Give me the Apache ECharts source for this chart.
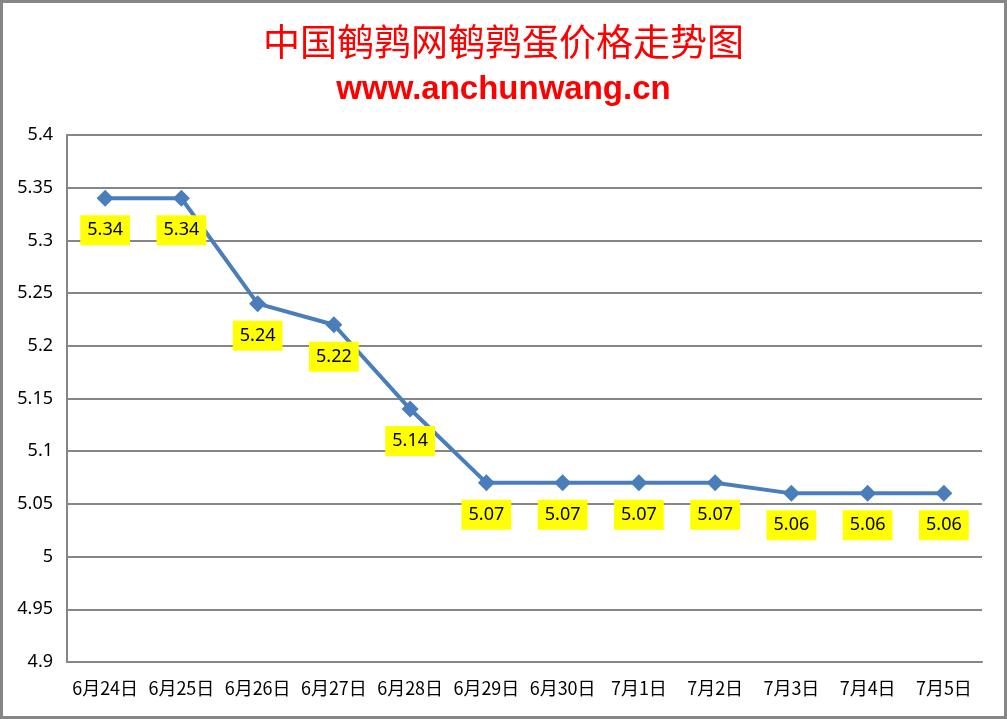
<!DOCTYPE html>
<html>
<head>
<meta charset="utf-8">
<script src="https://cdn.jsdelivr.net/npm/echarts@6/dist/echarts.min.js"></script>
<style>
  html, body { margin: 0; padding: 0; background: #fff; }
  #chart { width: 1007px; height: 719px; box-sizing: border-box; border: 3px solid #868686; }
</style>
</head>
<body>
<div id="chart"></div>
<script>
// 日期和价格
const dates = ['6月24日', '6月25日', '6月26日', '6月27日', '6月28日', '6月29日',
  '6月30日', '7月1日', '7月2日', '7月3日', '7月4日', '7月5日'];
const prices = [5.34, 5.34, 5.24, 5.22, 5.14, 5.07, 5.07, 5.07, 5.07, 5.06, 5.06, 5.06];

const chart = echarts.init(document.getElementById('chart'));

chart.setOption({
  animation: false,
  title: [{
    text: '中国鹌鹑网鹌鹑蛋价格走势图',
    left: 'center',
    top: 15,
    textStyle: { color: '#ff0000', fontSize: 37, fontWeight: 'normal', fontFamily: 'Noto Sans CJK SC' }
  }, {
    text: 'www.anchunwang.cn',
    left: 'center',
    top: 65,
    textStyle: { color: '#ff0000', fontSize: 33, fontWeight: 'bold', fontFamily: 'Liberation Sans' }
  }],
  // 关掉 v6 的自动外边界调整，网格位置按数值固定
  grid: { left: 64, right: 22, top: 132, bottom: 54, outerBoundsMode: 'none' },
  xAxis: {
    type: 'category',
    data: dates,
    axisLine: { lineStyle: { color: '#868686', width: 2 } },
    axisTick: { show: false },
    axisLabel: { color: '#000', fontSize: 18, margin: 17, fontFamily: 'Noto Sans CJK SC', interval: 0 }
  },
  yAxis: {
    type: 'value',
    min: 4.9,
    max: 5.4,
    interval: 0.05,
    axisLine: { show: true, lineStyle: { color: '#868686', width: 2 } },
    axisTick: { show: false },
    axisLabel: { color: '#000', fontSize: 18, margin: 14, fontFamily: 'Noto Sans',
      formatter: v => String(+v.toFixed(2)) },
    splitLine: { lineStyle: { color: '#868686', width: 2 } }
  },
  series: [{
    type: 'line',
    data: prices,
    symbol: 'diamond',
    symbolSize: 17,
    itemStyle: { color: '#4a7ebb' },
    lineStyle: { color: '#4a7ebb', width: 4 },
    label: {
      show: true,
      position: 'inside',
      offset: [0, 32],
      color: '#000',
      fontSize: 18,
      fontFamily: 'Noto Sans',
      backgroundColor: '#ffff00',
      padding: [7, 7, 5, 7],
      formatter: p => p.value.toFixed(2)
    }
  }]
});
</script>
</body>
</html>
